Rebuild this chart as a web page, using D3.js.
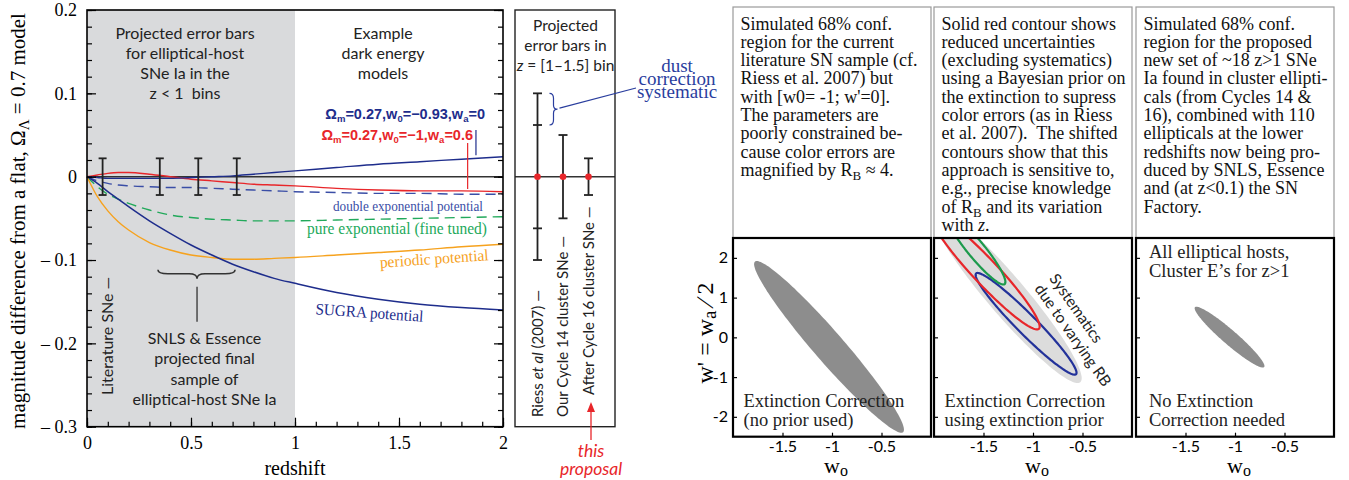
<!DOCTYPE html>
<html><head><meta charset="utf-8">
<script src="https://cdn.jsdelivr.net/npm/d3@7"></script>
<style>body{margin:0;background:#fff} svg{display:block} text{white-space:pre}</style>
</head><body>
<svg id="c" width="1349" height="480"></svg>
<script>
// ---------------- DATA ----------------
const redshift   = [0,0.05,0.1,0.15,0.2,0.3,0.4,0.5,0.6,0.7,0.8,0.9,1.0,1.2,1.4,1.6,1.8,2.0];
const modelW093  = [0,-0.001,-0.002,-0.002,-0.002,-0.002,-0.002,-0.001,0.000,0.001,0.003,0.005,0.007,0.011,0.015,0.018,0.021,0.024];
const modelWa06  = [0,0.002,0.004,0.005,0.005,0.003,0.000,-0.003,-0.005,-0.007,-0.009,-0.010,-0.011,-0.014,-0.016,-0.017,-0.017,-0.018];
const doubleExp  = [0,-0.005,-0.008,-0.010,-0.011,-0.012,-0.013,-0.013,-0.014,-0.015,-0.016,-0.017,-0.018,-0.019,-0.020,-0.020,-0.021,-0.021];
const pureExp    = [0,-0.012,-0.021,-0.027,-0.032,-0.040,-0.046,-0.049,-0.051,-0.052,-0.053,-0.053,-0.053,-0.052,-0.051,-0.050,-0.049,-0.048];
const periodic   = [0,-0.024,-0.041,-0.054,-0.064,-0.079,-0.088,-0.094,-0.097,-0.099,-0.099,-0.098,-0.097,-0.094,-0.091,-0.088,-0.084,-0.081];
const sugra      = [0,-0.008,-0.018,-0.027,-0.036,-0.053,-0.068,-0.082,-0.094,-0.105,-0.114,-0.122,-0.128,-0.139,-0.147,-0.153,-0.157,-0.160];
const errBarZ    = [0.075,0.35,0.535,0.72];
const errBarSize = [0.022,0.022,0.022,0.022];
const xTickVals  = [0,0.5,1,1.5,2];
const xTickLabels= ["0","0.5","1","1.5","2"];
const yTickVals  = [0.2,0.1,0,-0.1,-0.2,-0.3];
const yTickLabels= ["0.2","0.1","0","\u2013 0.1","\u2013 0.2","\u2013 0.3"];

const binCats    = ["Riess *et al* (2007) \u2014","Our Cycle 14 cluster SNe \u2014","After Cycle 16 cluster SNe \u2014"];
const binErr     = [0.1,0.05,0.022];
const binDustErr = [0.062,null,null];

const w0TickVals = [-1.5,-1,-0.5];
const w0TickLabels = ["-1.5","-1","-0.5"];
const wpTickVals = [2,1,0,-1,-2];
const wpTickLabels = ["2","1","0","-1","-2"];
// ellipses: end points of major axis (w0, w') and half-chord along w0
const ellPanel = [0,1,1,1,1,2];
const ellEndA  = [[-1.76,1.92],[-2.0,3.3],[-1.56,1.62],[-2.0,3.1],[-1.85,3.1],[-1.39,0.77]];
const ellEndB  = [[-0.30,-2.40],[-0.55,-1.15],[-0.58,-0.94],[-0.96,0.20],[-1.30,1.33],[-0.72,-0.76]];
const ellHalfW = [0.20,0.25,0.14,0.17,0.11,0.11];

const box1 = ["Simulated 68% conf.","region for the current","literature SN sample (cf.","Riess et al. 2007) but","with [w0= -1; w'=0].","The parameters are","poorly constrained be-","cause color errors are","magnified by R_{B} \u2248 4."];
const box2 = ["Solid red contour shows","reduced uncertainties","(excluding systematics)","using a Bayesian prior on","the extinction to supress","color errors (as in Riess","et al. 2007).  The shifted","contours show that this","approach is sensitive to,","e.g., precise knowledge","of R_{B} and its variation","with *z*."];
const box3 = ["Simulated 68% conf.","region for the proposed","new set of ~18 z>1 SNe","Ia found in cluster ellipti-","cals (from Cycles 14 &","16), combined with 110","ellipticals at the lower","redshifts now being pro-","duced by SNLS, Essence","and (at z<0.1) the SN","Factory."];
const panelTop = [["",""],["",""],["All elliptical hosts,","Cluster E\u2019s for z>1"]];
const panelBottom = [["Extinction Correction","(no prior used)"],["Extinction Correction","using extinction prior"],["No Extinction","Correction needed"]];

// ---------------- SETUP ----------------
const svg = d3.select("#c");
const SERIF = "'Liberation Serif','Times New Roman',serif";
const SANS = "Lato,'Open Sans',sans-serif";
const ARIAL = "'Liberation Sans',Arial,sans-serif";

function rich(sel, str, subSize, subDy) {
  subDy = subDy || 4;
  const parts = str.split(/(_\{[^}]*\}|\*[^*]*\*)/).filter(s => s.length);
  let shift = 0;
  parts.forEach(p => {
    if (p.startsWith("_{")) { sel.append("tspan").attr("dy", subDy - shift).attr("font-size", subSize).text(p.slice(2, -1)); shift = subDy; }
    else if (p.startsWith("*")) { sel.append("tspan").attr("dy", -shift).attr("font-style", "italic").text(p.slice(1, -1)); shift = 0; }
    else { sel.append("tspan").attr("dy", -shift).text(p); shift = 0; }
  });
  return sel;
}
function interp(xs, ys, v) {
  const i = Math.max(0, Math.min(xs.length - 2, d3.bisectRight(xs, v) - 1));
  const t = (v - xs[i]) / (xs[i + 1] - xs[i]);
  return ys[i] + t * (ys[i + 1] - ys[i]);
}

// ---------------- LEFT PANEL ----------------
const x = d3.scaleLinear().domain([0, 2]).range([87, 503]);
const y = d3.scaleLinear().domain([-0.3, 0.2]).range([426.7, 10]);
const L = svg.append("g");

L.append("rect").attr("x", x(0)).attr("y", y(0.2)).attr("width", x(1) - x(0)).attr("height", y(-0.3) - y(0.2)).attr("fill", "#d9dadc");

// zero line
L.append("line").attr("x1", x(0)).attr("x2", x(2)).attr("y1", y(0)).attr("y2", y(0)).attr("stroke", "#333").attr("stroke-width", 1.6);

const line = d3.line().x(d => x(d[0])).y(d => y(d[1])).curve(d3.curveMonotoneX);
const series = [
  {v: pureExp, c: "#22a95b", dash: "10,6", w: 1.4},
  {v: doubleExp, c: "#3a4ea6", dash: "10,6", w: 1.4},
  {v: periodic, c: "#f6a21e", dash: null, w: 1.4},
  {v: sugra, c: "#1e2d8c", dash: null, w: 1.5},
  {v: modelWa06, c: "#e8262a", dash: null, w: 1.4},
  {v: modelW093, c: "#1e2d8c", dash: null, w: 1.4}
];
series.forEach(s => {
  L.append("path").datum(redshift.map((z, i) => [z, s.v[i]])).attr("d", line)
    .attr("fill", "none").attr("stroke", s.c).attr("stroke-width", s.w).attr("stroke-dasharray", s.dash);
});

// error bars
errBarZ.forEach((z, i) => {
  const g = L.append("g").attr("stroke", "#222").attr("stroke-width", 1.8);
  g.append("line").attr("x1", x(z)).attr("x2", x(z)).attr("y1", y(errBarSize[i])).attr("y2", y(-errBarSize[i]));
  [errBarSize[i], -errBarSize[i]].forEach(e => g.append("line").attr("x1", x(z) - 4).attr("x2", x(z) + 4).attr("y1", y(e)).attr("y2", y(e)));
});

// axes
function styleAxis(g, font, size) {
  g.select(".domain").remove();
  g.selectAll(".tick line").attr("stroke", "#000").attr("stroke-width", 1.2);
  g.selectAll("text").attr("font-family", font).attr("font-size", size).attr("fill", "#000");
}
const yMinor = d3.range(-0.3, 0.2001, 0.02).map(v => +v.toFixed(2));
const xMinor = d3.range(0, 2.001, 0.1).map(v => +v.toFixed(1));
L.append("g").attr("transform", `translate(${x(0)},0)`).call(d3.axisLeft(y).tickValues(yMinor).tickSize(-5).tickFormat("")).call(styleAxis, SERIF, 18);
L.append("g").attr("transform", `translate(${x(0)},0)`).call(d3.axisLeft(y).tickValues(yTickVals).tickSize(-9).tickPadding(10).tickFormat((d, i) => yTickLabels[i])).call(styleAxis, SERIF, 18);
L.append("g").attr("transform", `translate(${x(2)},0)`).call(d3.axisRight(y).tickValues(yMinor).tickSize(-5).tickFormat("")).call(styleAxis, SERIF, 18);
L.append("g").attr("transform", `translate(${x(2)},0)`).call(d3.axisRight(y).tickValues(yTickVals).tickSize(-9).tickFormat("")).call(styleAxis, SERIF, 18);
L.append("g").attr("transform", `translate(0,${y(-0.3)})`).call(d3.axisBottom(x).tickValues(xMinor).tickSize(-5).tickFormat("")).call(styleAxis, SERIF, 18);
L.append("g").attr("transform", `translate(0,${y(-0.3)})`).call(d3.axisBottom(x).tickValues(xTickVals).tickSize(-9).tickPadding(9.5).tickFormat((d, i) => xTickLabels[i])).call(styleAxis, SERIF, 18);

L.append("rect").attr("x", x(0)).attr("y", y(0.2)).attr("width", x(2) - x(0)).attr("height", y(-0.3) - y(0.2)).attr("fill", "none").attr("stroke", "#000").attr("stroke-width", 1.6);

// axis titles
L.append("text").attr("x", x(1)).attr("y", 475).attr("text-anchor", "middle").attr("font-family", SERIF).attr("font-size", 20).text("redshift");
rich(L.append("text").attr("transform", "translate(25,221) rotate(-90)").attr("text-anchor", "middle").attr("font-family", SERIF).attr("font-size", 21),
  "magnitude difference from a flat, \u03A9_{\u039B} = 0.7 model", 15, 4);

// annotations
function block(g, lines, cx, y0, dy, opts) {
  const t = g.append("text").attr("text-anchor", opts.anchor || "middle").attr("font-family", opts.font).attr("font-size", opts.size).attr("fill", opts.color || "#222");
  lines.forEach((l, i) => { const ts = t.append("tspan").attr("x", cx).attr("y", y0 + i * dy); rich(ts, l, opts.size * 0.75); });
  return t;
}
block(L, ["Projected error bars", "for elliptical-host", "SNe Ia in the", "z < 1  bins"], 185, 38.5, 20.3, {font: SANS, size: 16});
block(L, ["Example", "dark energy", "models"], 383, 38.5, 20.3, {font: SANS, size: 16});
block(L, ["SNLS & Essence", "projected final", "sample of", "elliptical-host SNe Ia"], 204.5, 344, 20.3, {font: SANS, size: 16});
L.append("text").attr("transform", `translate(${x(0.075) + 10},${y(-0.262)}) rotate(-90)`).attr("font-family", SANS).attr("font-size", 16).attr("fill", "#222").text("Literature SNe \u2014");

// brace + line
{
  const x1 = x(0.341), x2 = x(0.712), xm = x(0.529), yt = y(-0.114);
  L.append("path").attr("d", `M${x1},${yt - 2} Q${x1},${yt + 2} ${x1 + 10},${yt + 2} L${xm - 8},${yt + 2} Q${xm},${yt + 2} ${xm},${yt + 7} Q${xm},${yt + 2} ${xm + 8},${yt + 2} L${x2 - 10},${yt + 2} Q${x2},${yt + 2} ${x2},${yt - 2}`)
    .attr("fill", "none").attr("stroke", "#333").attr("stroke-width", 1.6);
  L.append("line").attr("x1", xm).attr("x2", xm).attr("y1", y(-0.132)).attr("y2", y(-0.174)).attr("stroke", "#333").attr("stroke-width", 1.3);
}

// model labels
rich(L.append("text").attr("x", 485).attr("y", 119).attr("text-anchor", "end").attr("font-family", ARIAL).attr("font-weight", "bold").attr("font-size", 14.5).attr("fill", "#1e2d8c"),
  "\u03A9_{m}=0.27,w_{0}=\u22120.93,w_{a}=0", 9.5, 3);
rich(L.append("text").attr("x", 473).attr("y", 140).attr("text-anchor", "end").attr("font-family", ARIAL).attr("font-weight", "bold").attr("font-size", 14.5).attr("fill", "#e8262a"),
  "\u03A9_{m}=0.27,w_{0}=\u22121,w_{a}=0.6", 9.5, 3);
L.append("line").attr("x1", x(1.87)).attr("x2", x(1.87)).attr("y1", 130).attr("y2", y(interp(redshift, modelW093, 1.87)) - 3).attr("stroke", "#1e2d8c").attr("stroke-width", 1.2);
L.append("line").attr("x1", x(1.83)).attr("x2", x(1.83)).attr("y1", 143).attr("y2", y(interp(redshift, modelWa06, 1.83)) - 2).attr("stroke", "#e8262a").attr("stroke-width", 1.2);

L.append("text").attr("x", 483).attr("y", 211).attr("text-anchor", "end").attr("font-family", SERIF).attr("font-size", 15).attr("fill", "#3a4ea6")
  .attr("textLength", 150).attr("lengthAdjust", "spacingAndGlyphs").text("double exponential potential");
L.append("text").attr("x", 487).attr("y", 234).attr("text-anchor", "end").attr("font-family", SERIF).attr("font-size", 16).attr("fill", "#22a95b")
  .attr("textLength", 180).attr("lengthAdjust", "spacingAndGlyphs").text("pure exponential (fine tuned)");
L.append("text").attr("transform", "translate(434.5,264) rotate(-4)").attr("text-anchor", "middle").attr("font-family", SERIF).attr("font-size", 16).attr("fill", "#f6a21e")
  .attr("textLength", 109).attr("lengthAdjust", "spacingAndGlyphs").text("periodic potential");
L.append("text").attr("transform", "translate(369,318) rotate(4)").attr("text-anchor", "middle").attr("font-family", SERIF).attr("font-size", 16).attr("fill", "#1e2d8c")
  .attr("textLength", 108).attr("lengthAdjust", "spacingAndGlyphs").text("SUGRA potential");

// ---------------- MIDDLE PANEL ----------------
const M = svg.append("g");
const mx = d3.scalePoint().domain(binCats).range([537.5, 588.5]);
M.append("line").attr("x1", 515).attr("x2", 615).attr("y1", y(0)).attr("y2", y(0)).attr("stroke", "#333").attr("stroke-width", 1.4);
binCats.forEach((c, i) => {
  const cx = mx(c), g = M.append("g").attr("stroke", "#222").attr("stroke-width", 1.8);
  g.append("line").attr("x1", cx).attr("x2", cx).attr("y1", y(binErr[i])).attr("y2", y(-binErr[i]));
  [binErr[i], -binErr[i]].forEach(e => g.append("line").attr("x1", cx - 4.5).attr("x2", cx + 4.5).attr("y1", y(e)).attr("y2", y(e)));
  if (binDustErr[i] != null) [binDustErr[i], -binDustErr[i]].forEach(e => g.append("line").attr("x1", cx - 4.5).attr("x2", cx + 4.5).attr("y1", y(e)).attr("y2", y(e)));
  M.append("circle").attr("cx", cx).attr("cy", y(0)).attr("r", 3.3).attr("fill", "#e8262a");
  rich(M.append("text").attr("transform", `translate(${cx + 5},${i === 2 ? 395 : 417}) rotate(-90)`).attr("font-family", SANS).attr("font-size", 15).attr("fill", "#222"), c, 11);
});
M.append("rect").attr("x", 515).attr("y", y(0.2)).attr("width", 100).attr("height", y(-0.3) - y(0.2)).attr("fill", "none").attr("stroke", "#222").attr("stroke-width", 1.4);
block(M, ["Projected", "error bars in", "*z* = [1\u20131.5] bin"], 565.5, 30.5, 20.3, {font: SANS, size: 15.5});

// dust brace
{
  const xl = mx(binCats[0]) + 12, yt = y(binErr[0]), yb = y(binDustErr[0]), ym = (yt + yb) / 2;
  M.append("path").attr("d", `M${xl},${yt} Q${xl + 4},${yt} ${xl + 4},${yt + 5} L${xl + 4},${ym - 4} Q${xl + 4},${ym} ${xl + 8},${ym} Q${xl + 4},${ym} ${xl + 4},${ym + 4} L${xl + 4},${yb - 5} Q${xl + 4},${yb} ${xl},${yb}`)
    .attr("fill", "none").attr("stroke", "#2a3e9e").attr("stroke-width", 1.2);
  M.append("line").attr("x1", xl + 10).attr("y1", ym - 1).attr("x2", 636).attr("y2", 88).attr("stroke", "#2a3e9e").attr("stroke-width", 1.2);
}
block(M, ["dust", "correction", "systematic"], 677, 72, 12.8, {font: SERIF, size: 19, color: "#2a3e9e"});

// this proposal arrow
{
  const ax = mx(binCats[2]) + 2.5;
  M.append("line").attr("x1", ax).attr("x2", ax).attr("y1", 440).attr("y2", 409).attr("stroke", "#e8262a").attr("stroke-width", 1.3);
  M.append("path").attr("d", `M${ax},402 L${ax - 4},412 L${ax + 4},412 Z`).attr("fill", "#e8262a");
  block(M, ["this", "proposal"], ax, 457, 18, {font: SANS, size: 17.5, color: "#e8262a"}).attr("font-style", "italic");
}

// ---------------- RIGHT PANELS ----------------
const panelX0 = [733, 934, 1136], panelW = 198, pTop = 238, pBot = 436.7;
const boxes = [box1, box2, box3];
const R = svg.append("g");
panelX0.forEach((px, pi) => {
  const xs = d3.scaleLinear().domain([-2, 0]).range([px, px + panelW]);
  const ys = d3.scaleLinear().domain([-2.5, 2.5]).range([pBot, pTop]);
  // text box
  R.append("rect").attr("x", px).attr("y", 7).attr("width", panelW).attr("height", pTop - 7).attr("fill", "none").attr("stroke", "#9a9a9a").attr("stroke-width", 1.2);
  const t = R.append("text").attr("font-family", SERIF).attr("font-size", 18).attr("fill", "#111");
  boxes[pi].forEach((l, i) => rich(t.append("tspan").attr("x", px + 7.5).attr("y", 29.5 + i * 18.3), l, 13, 4));

  // clip
  const cid = "clip" + pi;
  R.append("clipPath").attr("id", cid).append("rect").attr("x", px).attr("y", pTop).attr("width", panelW).attr("height", pBot - pTop);
  const g = R.append("g").attr("clip-path", `url(#${cid})`);
  const eLine = d3.line().x(d => xs(d[0])).y(d => ys(d[1])).curve(d3.curveLinearClosed);
  ellPanel.forEach((p, ei) => {
    if (p !== pi) return;
    const A = ellEndA[ei], B = ellEndB[ei], hw = ellHalfW[ei];
    const cx = (A[0] + B[0]) / 2, cy = (A[1] + B[1]) / 2, ux = (B[0] - A[0]) / 2, uy = (B[1] - A[1]) / 2;
    const pts = d3.range(160).map(k => { const a = 2 * Math.PI * k / 160; return [cx + Math.cos(a) * ux + Math.sin(a) * hw, cy + Math.cos(a) * uy]; });
    const style = [
      {f: "#8d8d8d", s: "none"}, {f: "#dcdcdc", s: "none"}, {f: "none", s: "#23329a"}, {f: "none", s: "#e8262a"}, {f: "none", s: "#1c9a4c"}, {f: "#8d8d8d", s: "none"}
    ][ei];
    g.append("path").datum(pts).attr("d", eLine).attr("fill", style.f).attr("stroke", style.s).attr("stroke-width", 2.2);
  });

  // axes
  R.append("g").attr("transform", `translate(${px},0)`).call(d3.axisLeft(ys).tickValues(wpTickVals).tickSize(-4).tickPadding(5).tickFormat((d, i) => pi === 0 ? wpTickLabels[i] : "")).call(styleAxis, SANS, 16);
  R.append("g").attr("transform", `translate(0,${pBot})`).call(d3.axisBottom(xs).tickValues(w0TickVals).tickSize(-4).tickPadding(4).tickFormat((d, i) => w0TickLabels[i])).call(styleAxis, SANS, 16);
  R.append("rect").attr("x", px).attr("y", pTop).attr("width", panelW).attr("height", pBot - pTop).attr("fill", "none").attr("stroke", "#000").attr("stroke-width", 2.2);

  // x title
  rich(R.append("text").attr("x", xs(-1) + 4).attr("y", 472.5).attr("text-anchor", "middle").attr("font-family", SERIF).attr("font-size", 22), "w_{o}", 16, 3.5);

  // panel texts
  const tb = R.append("text").attr("font-family", SERIF).attr("font-size", 18.5).attr("fill", "#222");
  panelBottom[pi].forEach((l, i) => tb.append("tspan").attr("x", px + (pi === 2 ? 13 : 10.5)).attr("y", 407 + i * 18.5).text(l));
  const tt = R.append("text").attr("font-family", SERIF).attr("font-size", 18.5).attr("fill", "#222");
  panelTop[pi].forEach((l, i) => tt.append("tspan").attr("x", px + 13).attr("y", 258 + i * 19).text(l));

  if (pi === 1) {
    const st = R.append("text").attr("transform", `translate(${xs(-0.84)},${ys(1.48)}) rotate(55)`).attr("font-family", SANS).attr("font-size", 15.5).attr("fill", "#222");
    st.append("tspan").attr("x", 0).attr("y", 0).text("Systematics");
    st.append("tspan").attr("x", 0).attr("y", 18).text("due to varying RB");
  }
});
// y title for right panels
rich(R.append("text").attr("transform", "translate(713,333) rotate(-90)").attr("text-anchor", "middle").attr("font-family", SERIF).attr("font-size", 24),
  "w' = w_{a} \u2215 2", 19, 3);
</script>
</body></html>
